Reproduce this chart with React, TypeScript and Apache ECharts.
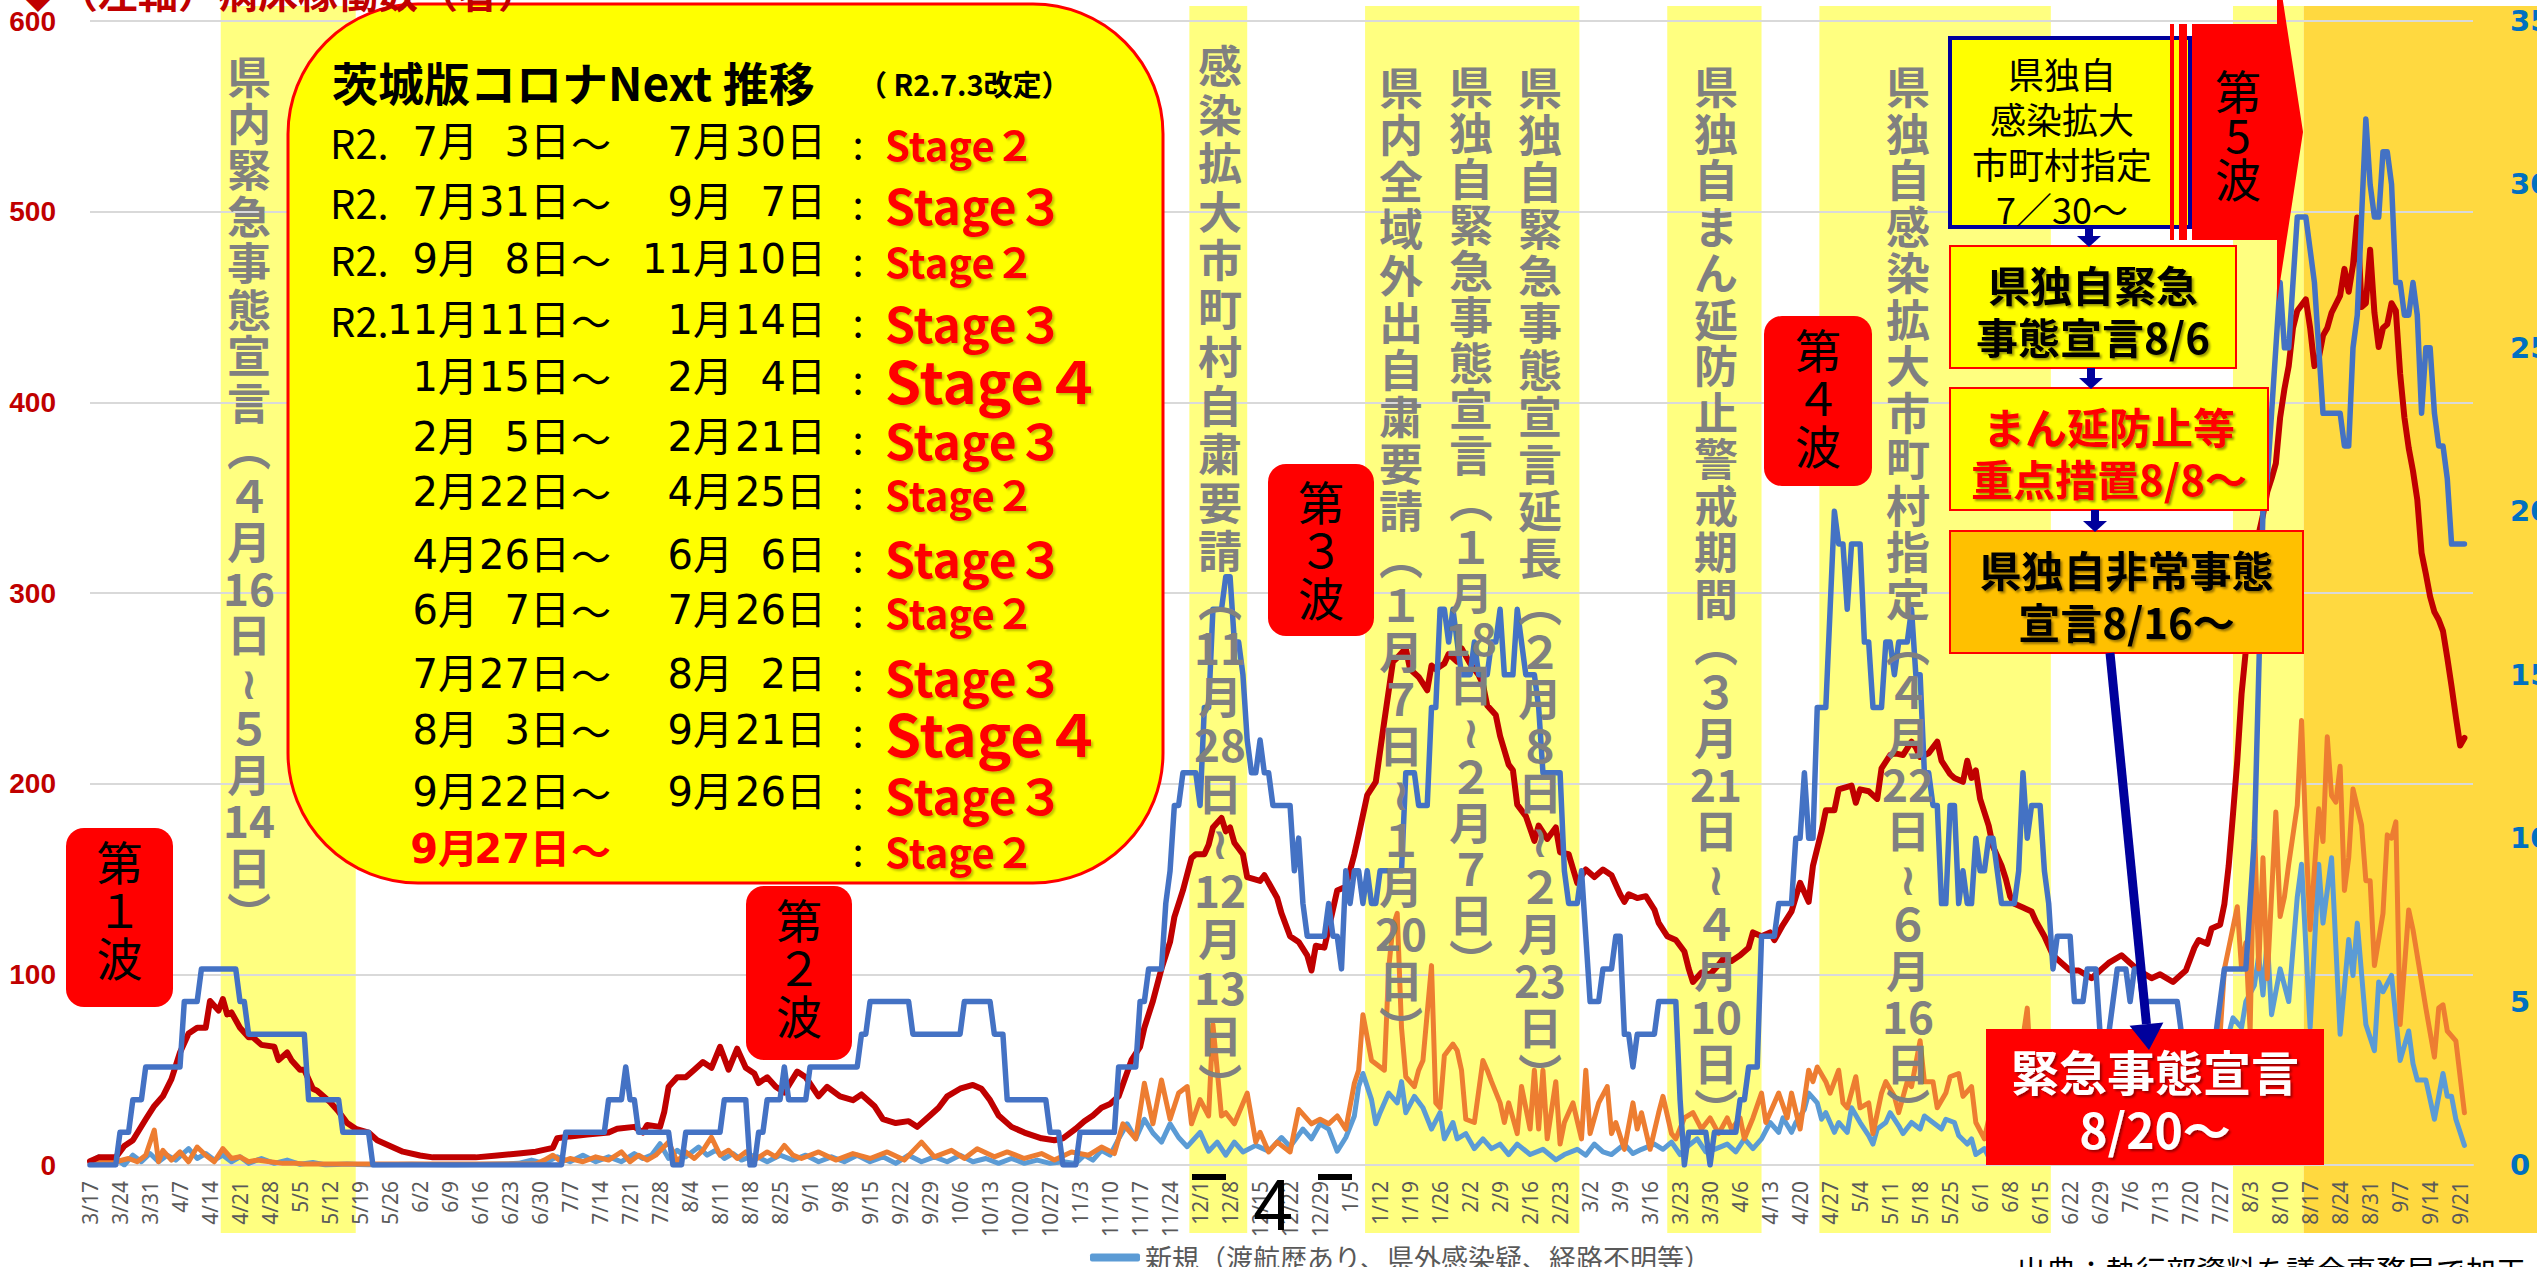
import React, { useEffect, useRef } from 'react';
import * as echarts from 'echarts';

const START = Date.UTC(2020, 2, 17);
const LAST_DAY = 554;
const AXIS_MAX_DAY = 556;
const dayLabel = (d: number) => {
  const t = new Date(START + d * 86400000);
  return `${t.getUTCMonth() + 1}/${t.getUTCDate()}`;
};

// 病床稼働数 (left axis) [day index from 3/17/2020, value]
const bedsData: number[][] = [
  [0,2],[2,4],[6,4],[8,10],[10,13],[13,24],[15,31],[17,36],[19,45],[21,59],[23,69],[25,72],[27,72],[28,86],[30,81],[31,87],[32,79],[33,80],[35,72],[37,67],[38,67],[40,63],[43,62],[44,55],[46,59],[47,55],[49,50],[50,50],[52,40],[53,39],[56,33],[58,28],[60,22],[62,19],[65,17],[67,13],[70,10],[73,7],[77,5],[80,4],[85,4],[90,4],[95,5],[100,6],[104,7],[108,9],[109,14],[112,15],[116,16],[121,17],[123,19],[127,20],[129,17],[130,21],[133,20],[134,28],[135,41],[137,46],[139,46],[141,50],[143,54],[145,51],[147,62],[149,50],[151,61],[153,51],[155,48],[156,43],[158,46],[160,41],[162,38],[165,49],[167,46],[170,36],[172,41],[175,36],[178,34],[180,37],[183,31],[185,24],[188,22],[191,23],[193,20],[196,26],[198,30],[200,36],[203,40],[206,42],[208,40],[210,34],[212,26],[215,20],[218,17],[222,14],[225,13],[227,14],[230,19],[232,23],[234,26],[236,30],[238,32],[240,36],[243,55],[245,62],[246,72],[248,86],[250,103],[252,117],[253,130],[255,144],[257,161],[258,163],[260,163],[261,168],[262,177],[264,182],[265,175],[266,177],[267,169],[269,163],[270,151],[273,149],[274,152],[277,140],[278,132],[280,120],[282,117],[284,110],[285,102],[286,115],[288,114],[290,134],[291,144],[293,146],[295,163],[296,173],[298,194],[300,201],[302,233],[304,264],[305,266],[307,271],[308,260],[310,256],[312,249],[313,262],[314,260],[316,263],[317,268],[319,264],[320,271],[322,263],[324,257],[325,252],[326,241],[328,236],[329,225],[331,210],[332,207],[333,189],[335,183],[337,170],[338,178],[340,171],[342,177],[343,164],[345,163],[347,148],[349,155],[351,151],[353,155],[355,152],[357,142],[358,138],[359,142],[361,140],[363,141],[365,134],[366,127],[368,120],[370,118],[372,112],[373,103],[374,96],[376,101],[378,100],[380,105],[381,108],[383,107],[385,110],[387,114],[388,122],[390,120],[392,122],[393,118],[395,126],[397,133],[399,148],[401,138],[402,157],[404,175],[405,186],[407,186],[408,197],[411,199],[412,190],[413,197],[415,196],[417,192],[418,208],[420,215],[421,216],[423,215],[425,222],[426,219],[427,214],[429,216],[431,222],[432,212],[434,205],[435,203],[437,201],[438,212],[439,203],[440,207],[441,192],[443,178],[444,167],[446,157],[447,150],[448,141],[449,137],[451,135],[453,133],[454,128],[456,120],[458,110],[460,106],[462,102],[464,102],[467,98],[469,102],[471,106],[474,110],[476,106],[478,102],[481,98],[483,100],[486,96],[488,100],[489,102],[491,114],[492,118],[494,116],[495,124],[497,126],[498,137],[499,157],[500,184],[501,212],[502,247],[503,270],[504,298],[505,321],[507,341],[508,353],[509,360],[510,368],[511,392],[512,407],[513,419],[514,439],[515,448],[517,454],[518,439],[519,419],[520,423],[521,435],[522,439],[523,447],[525,456],[526,470],[527,458],[528,472],[529,497],[530,450],[531,452],[532,480],[533,447],[534,429],[535,439],[536,441],[537,452],[538,448],[539,415],[540,392],[541,376],[542,364],[543,349],[544,321],[545,310],[546,298],[547,290],[548,286],[549,280],[550,266],[551,251],[552,235],[553,220],[554,224],
];

// 重症者数 (right axis): [first day of run, value held until next run]
const severeRuns: number[][] = [
  [0,0],[7,1],[10,2],[13,3],[22,5],[26,6],[35,5],[37,4],[51,2],[59,1],[66,0],[111,1],[121,2],[125,3],[126,2],[128,1],[136,0],[139,1],[148,2],[154,0],[156,1],[158,2],[162,3],[163,2],[168,3],[180,4],[182,5],[192,4],[204,5],[211,4],[214,2],[224,1],[227,0],[231,1],[240,3],[245,5],[247,6],[251,8],[252,9],[253,11],[255,12],[259,11],[260,14],[262,17],[265,18],[267,16],[269,15],[270,13],[271,12],[273,13],[274,12],[276,11],[281,9],[282,10],[283,8],[284,7],[289,8],[290,7],[292,6],[293,9],[294,8],[295,9],[297,8],[298,9],[299,8],[301,9],[307,12],[310,11],[313,14],[315,17],[317,16],[318,17],[319,16],[320,15],[323,16],[324,15],[327,16],[329,17],[330,15],[333,17],[334,16],[335,15],[338,14],[339,12],[344,9],[345,8],[348,9],[349,7],[350,5],[353,6],[356,7],[358,4],[360,3],[361,4],[366,5],[371,2],[372,0],[373,1],[378,0],[379,1],[385,2],[387,3],[390,7],[394,8],[398,10],[400,12],[401,10],[403,14],[406,17],[407,20],[408,19],[410,17],[411,19],[414,16],[416,14],[419,16],[421,15],[422,16],[425,17],[426,15],[428,12],[430,11],[432,8],[434,11],[436,8],[437,9],[438,8],[440,10],[441,9],[443,10],[445,9],[446,8],[450,9],[451,12],[452,10],[453,11],[456,9],[457,8],[458,6],[459,7],[463,5],[466,6],[469,4],[472,5],[473,6],[476,5],[477,6],[479,5],[488,4],[491,3],[494,4],[497,5],[498,6],[504,8],[505,10],[506,15],[507,20],[508,21],[509,23],[510,25],[511,27],[512,25],[514,27],[515,29],[518,28],[519,27],[520,25],[521,23],[526,22],[528,25],[529,26],[530,29],[531,32],[532,30],[533,29],[535,31],[537,30],[538,27],[540,26],[542,27],[543,26],[544,23],[545,25],[547,23],[548,22],[550,21],[551,19],
];

// 新規（渡航歴あり、県外感染疑、経路不明等） (right axis)
const unknownData: number[][] = [
  [0,0.1],[2,0.25],[4,0.05],[6,0.2],[8,0],[10,0.3],[12,0.1],[14,0.35],[16,0.1],[18,0.3],[20,0.15],[23,0.5],[25,0.2],[27,0.35],[29,0.15],[31,0.3],[33,0.1],[35,0.25],[37,0.05],[40,0.2],[43,0.05],[46,0.15],[49,0.02],[52,0.08],[55,0],[60,0.03],[65,0],[75,0.02],[85,0],[95,0.03],[100,0.05],[103,0.15],[106,0.05],[109,0.25],[112,0.1],[115,0.3],[118,0.1],[121,0.25],[124,0.1],[127,0.35],[129,0.2],[131,0.3],[133,0.65],[135,0.2],[137,0.45],[139,0.25],[142,0.55],[144,0.3],[146,0.45],[148,0.2],[150,0.35],[152,0.15],[155,0.3],[158,0.1],[161,0.3],[164,0.15],
  [167,0.3],[170,0.1],[173,0.25],[176,0.1],[179,0.3],[182,0.1],[185,0.25],[188,0.05],[191,0.3],[194,0.1],[197,0.25],[200,0.1],[203,0.3],[206,0.1],[209,0.2],[212,0.05],[215,0.2],[218,0.05],[221,0.15],[224,0.05],[227,0.1],[230,0.05],[232,0.3],[234,0.15],[236,0.45],[238,0.3],[240,0.8],
  [242,1.26],[244,0.8],[246,1.4],[248,0.98],[250,0.7],[252,1.26],[254,0.84],[256,0.56],[259,1.0],[261,0.42],[263,0.7],[265,0.3],[267,0.7],[269,0.4],[272,0.6],[275,0.42],[278,0.84],[280,0.56],[283,1.1],[285,0.8],[287,1.26],[289,1.1],[291,0.42],[293,0.84],[295,1.5],[296,2.4],[297,2.8],[299,2.0],[300,1.26],
  [301,1.6],[303,2.2],[305,1.9],[306,2.55],[307,1.6],[309,2.1],[311,1.75],[313,1.1],[315,1.6],[316,0.8],[318,1.3],[319,0.8],[321,0.96],[323,0.5],[325,0.8],[327,0.5],[329,0.64],[331,0.32],[333,0.64],[336,0.32],[339,0.48],[342,0.16],[344,0.32],[347,0.48],[349,0.3],[351,0.64],[353,0.4],[355,0.32],[358,0.64],[360,0.35],[362,0.48],[365,0.64],[367,0.48],[369,0.7],[371,0.32],[373,0.6],[375,0.8],[377,0.4],[379,0.48],[382,0.64],[384,0.4],[386,0.8],[388,0.5],[390,0.8],[392,1.3],[394,1.0],[395,1.44],[397,1.0],[398,1.3],[400,1.7],[401,2.2],[403,1.9],[404,1.4],[405,1.6],[407,1.0],[408,1.3],[410,1.0],[411,1.75],[413,1.3],[415,0.9],[416,0.64],[417,1.1],[419,1.3],[420,1.6],[422,1.2],[423,0.96],[425,1.3],[427,1.1],[428,1.5],[430,1.3],[432,1.1],[433,1.4],[435,1.3],[436,0.9],[438,0.64],[439,0.8],[440,0.32],[442,0.5],[443,0.24],
  [444,0.4],[446,1.0],[448,0.6],[450,1.4],[452,1.0],[454,1.6],[456,0.9],[458,1.5],[460,0.8],[462,1.2],[464,0.6],[466,1.0],[468,0.5],[470,0.9],[472,0.6],[474,1.1],[476,0.7],[478,1.0],[480,0.6],[482,1.2],[484,0.8],[486,1.3],[488,0.9],[490,1.5],[492,1.2],[494,2.0],[496,2.4],[498,3.5],[500,4.5],[502,4.2],[503,5],[505,5.5],[506,6.4],[507,5.2],[508,6.9],[509,4.6],[511,6],[513,5],[515,8.2],
  [516,9.2],[518,4.2],[520,9.2],[521,7.4],[523,9.4],[525,4.0],[527,6.9],[528,5.8],[529,7.4],[531,4.3],[533,3.5],[534,5.6],[535,5.3],[537,5.8],[539,3.2],[541,4.1],[542,3.1],[543,2.6],[545,2.6],[547,1.4],[549,2.8],[550,2.1],[551,2.1],[552,1.4],[554,0.6],
];

// second new-case series (orange, right axis)
const contactData: number[][] = [
  [0,0.05],[3,0.15],[6,0.1],[9,0.2],[11,0.1],[13,0.3],[15,1.07],[16,0.1],[17,0.45],[19,0.15],[21,0.4],[23,0.1],[25,0.55],[27,0.3],[29,0.1],[31,0.5],[33,0.2],[35,0.25],[37,0.1],[39,0.15],[42,0.1],[45,0.05],[48,0.05],[50,0.03],[60,0.03],[70,0.03],[80,0.03],[90,0.03],[100,0.03],[104,0.03],[106,0.15],[108,0.3],[110,0.1],[112,0.2],[115,0.1],[118,0.25],[121,0.15],[124,0.4],[126,0.1],[128,0.3],[130,0.15],[132,0.3],[135,0.7],[137,0.1],[139,0.4],[141,0.2],[143,0.45],[145,0.85],[147,0.3],[149,0.45],[151,0.2],[153,0.4],[155,0.15],[158,0.4],[160,0.25],[162,0.6],[164,0.3],
  [166,0.2],[170,0.4],[174,0.15],[178,0.35],[182,0.2],[186,0.4],[190,0.15],[194,0.7],[197,0.25],[201,0.45],[204,0.2],[207,0.5],[211,0.25],[214,0.4],[218,0.2],[222,0.35],[225,0.15],[229,0.4],[233,0.3],[236,0.55],[239,0.35],[241,1.26],[244,0.8],[246,2.5],[248,1.26],[250,2.6],[252,1.4],[254,2.2],[256,2.4],[257,1.26],[259,2.0],[261,1.5],[262,4.3],[264,1.5],[265,1.6],[267,1.26],[270,2.2],[272,0.7],[273,1.0],[275,0.4],[277,0.7],[280,0.4],[282,1.7],[285,1.26],[287,1.4],[289,1.26],[291,1.5],[293,1.1],[295,2.5],[296,2.9],[297,4.6],[299,3.2],[301,3.0],[302,2.9],[303,6.0],[304,7.3],[305,7.7],[306,4.2],[307,2.7],[309,2.4],[310,2.9],[311,3.2],[313,6.1],[314,1.9],[315,1.75],[316,3.35],[318,3.7],[319,3.5],[320,2.9],[321,1.4],[323,1.3],[325,3.2],[326,2.9],[327,2.55],[329,1.9],[330,1.3],[331,1.9],[333,0.96],[334,2.4],[336,1.1],[337,2.9],[338,1.1],[339,2.9],[340,0.8],[342,2.55],[343,0.64],[344,1.3],[346,1.9],[348,0.8],[349,2.9],[350,0.96],[352,1.9],[354,2.4],[355,0.96],[356,1.3],[358,0.48],[360,1.9],[361,1.1],[362,1.6],[364,0.48],[366,1.6],[367,2.1],[369,0.96],[370,0.8],[372,1.44],[374,1.6],[376,1.1],[378,1.44],[380,0.96],[382,1.44],[383,1.1],[385,1.44],[386,0.8],[388,1.44],[390,2.2],[391,1.3],[392,1.6],[394,2.2],[396,1.44],[397,2.2],[399,1.1],[401,2.9],[402,2.55],[403,3.0],[405,2.55],[406,2.2],[408,2.9],[409,1.9],[410,1.75],[412,2.7],[413,1.75],[415,1.9],[416,0.96],[418,2.2],[419,2.55],[421,2.1],[422,1.6],[424,2.55],[425,2.4],[427,3.8],[428,2.55],[430,2.55],[431,1.75],[433,2.2],[434,2.7],[436,2.8],[437,2.1],[439,2.4],[440,1.3],[442,0.8],
  [444,2.0],[446,2.8],[448,2.2],[450,3.0],[452,4.8],[453,2.5],[455,3.2],[457,2.0],[459,2.8],[461,1.8],[463,2.6],[465,1.5],[467,2.4],[469,1.8],[471,2.6],[473,1.6],[475,2.2],[477,1.5],[479,2.3],[481,1.6],[483,2.5],[485,1.8],[487,2.6],[489,2.0],[491,3.0],[493,2.4],[495,3.5],[497,4.0],
  [498,6.0],[501,7.9],[502,6.0],[503,6.8],[504,4.1],[505,10.5],[506,6.0],[507,9.4],[508,5.7],[510,10.8],[511,7.6],[512,8.2],[513,9.2],[515,11],[516,13.6],[517,10.1],[518,7.2],[520,10.9],[521,9.9],[522,13.1],[523,11.3],[524,11.1],[525,12.2],[526,8.4],[527,9.4],[528,11.5],[530,10.4],[531,8.7],[532,8.7],[533,6.1],[535,7.7],[536,10.1],[537,10.0],[538,10.5],[539,4.3],[541,7.8],[542,7.2],[544,5.6],[545,4.8],[547,3.3],[548,4.8],[549,4.9],[550,4.1],[552,3.8],[554,1.6],
];

// measure periods (day index ranges)
const periodRanges: number[][] = [[30.5, 62], [256.5, 270], [297.5, 347.5], [368, 390], [403.5, 457.5], [500, 516.5]];
const emergencyStart = 516.5;

// Ibaraki "Next" stage table
const nextPrefix = ['R2.', 'R2.', 'R2.', 'R2.', '', '', '', '', '', '', '', '', ''];
const nextFromMonth = ['7月', '7月', '9月', '11月', '1月', '2月', '2月', '4月', '6月', '7月', '8月', '9月', '9月'];
const nextFromDay = ['3日', '31日', '8日', '11日', '15日', '5日', '22日', '26日', '7日', '27日', '3日', '22日', '27日'];
const nextToMonth = ['7月', '9月', '11月', '1月', '2月', '2月', '4月', '6月', '7月', '8月', '9月', '9月', ''];
const nextToDay = ['30日', '7日', '10日', '14日', '4日', '21日', '25日', '6日', '26日', '2日', '21日', '26日', ''];
const nextStage = [2, 3, 2, 3, 4, 3, 2, 3, 2, 3, 4, 3, 2];

const periodTexts: string[][] = [
  ['県','内','緊','急','事','態','宣','言','︵','４','月','16','日','≀','５','月','14','日','︶'],
  ['感','染','拡','大','市','町','村','自','粛','要','請','︵','11','月','28','日','≀','12','月','13','日','︶'],
  ['県','内','全','域','外','出','自','粛','要','請','︵','１','月','７','日','≀','１','月','20','日','︶'],
  ['県','独','自','緊','急','事','態','宣','言','︵','１','月','18','日','≀','２','月','７','日','︶'],
  ['県','独','自','緊','急','事','態','宣','言','延','長','︵','２','月','８','日','≀','２','月','23','日','︶'],
  ['県','独','自','ま','ん','延','防','止','警','戒','期','間','︵','３','月','21','日','≀','４','月','10','日','︶'],
  ['県','独','自','感','染','拡','大','市','町','村','指','定','︵','４','月','22','日','≀','６','月','16','日','︶'],
];
const waveLabels = ['第\n１\n波', '第\n２\n波', '第\n３\n波', '第\n４\n波', '第\n5\n波'];

const CJK = '"Noto Sans CJK JP", "DejaVu Sans", sans-serif';
const DATEFONT = '"DejaVu Sans", "Noto Sans CJK JP", sans-serif';
const W = 2537;
const H = 1267;

export default function App() {
  const ref = useRef<HTMLDivElement>(null);
  useEffect(() => {
    document.body.style.margin = '0';
    document.body.style.overflow = 'hidden';
    if (!ref.current) return;
    const chart = echarts.init(ref.current, null, { renderer: 'svg', width: W, height: H });

    const severeDaily: number[][] = [];
    severeRuns.forEach(([s, v], i) => {
      const e = i + 1 < severeRuns.length ? severeRuns[i + 1][0] : LAST_DAY + 1;
      for (let d = s; d < e; d++) severeDaily.push([d, v]);
    });

    const line = (name: string, data: number[][], color: string, width: number, yAxisIndex: number) => ({
      name, type: 'line', data, yAxisIndex, showSymbol: false, symbol: 'none',
      lineStyle: { color, width, join: 'round', cap: 'round' }, itemStyle: { color },
    });

    chart.setOption({
      animation: false,
      grid: { left: 90, right: 64, top: 21, bottom: 102, containLabel: false, outerBoundsMode: 'none' },
      xAxis: {
        type: 'value', min: 0, max: AXIS_MAX_DAY, interval: 7,
        axisLine: { show: true, lineStyle: { color: '#D9D9D9', width: 2 } },
        axisTick: { show: false }, splitLine: { show: false },
        axisLabel: { rotate: 90, fontSize: 21, color: '#595959', fontFamily: 'Noto Sans', margin: 16, showMaxLabel: false, formatter: (v: number) => dayLabel(v) },
      },
      yAxis: [
        {
          type: 'value', min: 0, max: 600, interval: 100, position: 'left',
          axisLine: { show: false }, axisTick: { show: false },
          splitLine: { show: true, lineStyle: { color: '#D9D9D9', width: 2 } },
          axisLabel: { color: '#C00000', fontWeight: 'bold', fontSize: 28, fontFamily: 'Liberation Sans', margin: 34 },
        },
        {
          type: 'value', min: 0, max: 35, interval: 5, position: 'right',
          axisLine: { show: false }, axisTick: { show: false }, splitLine: { show: false },
          axisLabel: { color: '#0070C0', fontWeight: 'bold', fontSize: 29, fontFamily: 'DejaVu Sans', margin: 37 },
        },
      ],
      legend: {
        data: ['新規（渡航歴あり、県外感染疑、経路不明等）'], left: 1090, top: 1244, padding: 0,
        itemWidth: 50, itemHeight: 8, icon: 'roundRect',
        textStyle: { fontSize: 27, color: '#595959', fontFamily: CJK },
      },
      series: [
        line('新規（渡航歴あり、県外感染疑、経路不明等）', unknownData, '#5B9BD5', 5, 1),
        line('新規（その他）', contactData, '#ED7D31', 5, 1),
        line('病床稼働数', bedsData, '#C00000', 6, 0),
        line('重症者数', severeDaily, '#4472C4', 5.5, 1),
      ],
    });

    const px = (d: number) => chart.convertToPixel({ xAxisIndex: 0 }, d) as number;
    const els: any[] = [];
    periodRanges.forEach(([a, b]) => {
      els.push({ type: 'rect', z: -5, shape: { x: px(a), y: 6, width: px(b) - px(a), height: 1227 }, style: { fill: '#FFFF80' } });
    });
    els.push({ type: 'rect', z: -4, shape: { x: px(emergencyStart), y: 6, width: W - px(emergencyStart), height: 1227 }, style: { fill: '#FFD940' } });

    // vertical period texts
    const colX = [249, 1220, 1401, 1471, 1540, 1716, 1908];
    const colY = [52, 40, 62, 62, 62, 62, 62];
    const colLH = [46.5, 48.5, 47, 46, 47, 46.5, 46.5];
    periodTexts.forEach((cells, i) => {
      els.push({ type: 'text', z: 50, x: colX[i], y: colY[i], style: { text: cells.join('\n'), fill: '#808080', fontSize: 44, fontWeight: 'bold', fontFamily: CJK, lineHeight: colLH[i], align: 'center', verticalAlign: 'top' } });
    });

    // wave boxes
    const waveBox = [[66, 828, 107, 179, 908], [746, 886, 106, 174, 966], [1268, 464, 106, 172, 548], [1764, 316, 108, 170, 396]];
    waveBox.forEach(([x, y, w, h, cy], i) => {
      els.push({ type: 'rect', z: 55, shape: { x, y, width: w, height: h, r: 18 }, style: { fill: '#FF0000' } });
      els.push({ type: 'text', z: 56, x: x + w / 2, y: cy, style: { text: waveLabels[i], fill: '#000', fontSize: 46, fontFamily: CJK, lineHeight: 48, align: 'center', verticalAlign: 'middle' } });
    });

    // left axis title
    els.push({ type: 'text', z: 80, x: 18, y: -29, style: { text: '◆（左軸）病床稼働数（者）', fill: '#C00000', fontSize: 40, fontWeight: 'bold', fontFamily: CJK } });

    // Next stage box
    els.push({ type: 'rect', z: 60, shape: { x: 288, y: 4, width: 875, height: 879, r: 130 }, style: { fill: '#FFFF00', stroke: '#FF0000', lineWidth: 3 } });
    els.push({ type: 'text', z: 61, x: 332, y: 81, style: { text: '茨城版コロナNext 推移', fill: '#000', fontSize: 46, fontWeight: 'bold', fontFamily: CJK, verticalAlign: 'middle' } });
    els.push({ type: 'text', z: 61, x: 858, y: 83, style: { text: '（ R2.7.3改定）', fill: '#000', fontSize: 29, fontWeight: 'bold', fontFamily: CJK, verticalAlign: 'middle' } });
    const rowY = [142, 202, 259, 320, 377, 437, 492, 555, 610, 674, 730, 792, 849];
    const stageSize: Record<number, number> = { 2: 40, 3: 48, 4: 58 };
    const fw = ['', '', '２', '３', '４'];
    rowY.forEach((y, i) => {
      const last = i === rowY.length - 1;
      const base = { fontSize: 40, fontFamily: DATEFONT, verticalAlign: 'middle', fill: last ? '#FF0000' : '#000', fontWeight: last ? 'bold' : 'normal' };
      if (nextPrefix[i]) els.push({ type: 'text', z: 61, x: 330, y, style: { ...base, fontFamily: CJK, text: nextPrefix[i], align: 'left' } });
      els.push({ type: 'text', z: 61, x: 478, y, style: { ...base, text: nextFromMonth[i], align: 'right' } });
      els.push({ type: 'text', z: 61, x: 570, y, style: { ...base, text: nextFromDay[i], align: 'right' } });
      els.push({ type: 'text', z: 61, x: 591, y, style: { ...base, fontFamily: CJK, text: '～', align: 'center' } });
      if (nextToMonth[i]) els.push({ type: 'text', z: 61, x: 733, y, style: { ...base, text: nextToMonth[i], align: 'right' } });
      if (nextToDay[i]) els.push({ type: 'text', z: 61, x: 826, y, style: { ...base, text: nextToDay[i], align: 'right' } });
      els.push({ type: 'text', z: 61, x: 858, y, style: { fontSize: 40, fontFamily: CJK, verticalAlign: 'middle', fill: '#000', text: ':', align: 'center' } });
      els.push({ type: 'text', z: 61, x: 885, y: y + 2, style: { text: 'Stage' + fw[nextStage[i]], fill: '#FF0000', fontWeight: 'bold', fontSize: stageSize[nextStage[i]], fontFamily: CJK, verticalAlign: 'middle', textShadowColor: 'rgba(0,0,0,0.25)', textShadowOffsetX: 2, textShadowOffsetY: 2, textShadowBlur: 2 } });
    });

    // right-side measure boxes
    const NAVY = '#00009C';
    els.push({ type: 'rect', z: 60, shape: { x: 1950, y: 38, width: 240, height: 189 }, style: { fill: '#FFFF00', stroke: NAVY, lineWidth: 4 } });
    els.push({ type: 'text', z: 61, x: 2062, y: 140, style: { text: '県独自\n感染拡大\n市町村指定\n7／30～', fill: '#000', fontSize: 36, lineHeight: 45, fontFamily: CJK, align: 'center', verticalAlign: 'middle' } });
    els.push({ type: 'rect', z: 62, shape: { x: 2170, y: 24, width: 4, height: 216 }, style: { fill: '#FF0000' } });
    els.push({ type: 'rect', z: 62, shape: { x: 2179, y: 24, width: 8, height: 216 }, style: { fill: '#FF0000' } });
    els.push({ type: 'polygon', z: 62, shape: { points: [[2192, 24], [2277, 24], [2277, -38], [2303, 132], [2277, 302], [2277, 240], [2192, 240]] }, style: { fill: '#FF0000' } });
    els.push({ type: 'text', z: 63, x: 2238, y: 133, style: { text: waveLabels[4], fill: '#000', fontSize: 46, lineHeight: 44, fontFamily: CJK, align: 'center', verticalAlign: 'middle' } });

    const shadow = { textShadowColor: 'rgba(0,0,0,0.4)', textShadowOffsetX: 2, textShadowOffsetY: 2, textShadowBlur: 2 };
    const boxes = [
      { x: 1950, y: 246, w: 286, h: 122, fill: '#FFFF00', stroke: '#FF0000', text: '県独自緊急\n事態宣言8/6', color: '#000', size: 42 },
      { x: 1950, y: 388, w: 318, h: 122, fill: '#FFFF00', stroke: '#FF0000', text: 'まん延防止等\n重点措置8/8～', color: '#FF0000', size: 42 },
      { x: 1950, y: 531, w: 353, h: 122, fill: '#FFC000', stroke: '#FF0000', text: '県独自非常事態\n宣言8/16～', color: '#000', size: 42 },
      { x: 1987, y: 1030, w: 336, h: 134, fill: '#FF0000', stroke: '#FF0000', text: '緊急事態宣言\n8/20～', color: '#FFF', size: 48 },
    ];
    boxes.forEach((b) => {
      els.push({ type: 'rect', z: 60, shape: { x: b.x, y: b.y, width: b.w, height: b.h }, style: { fill: b.fill, stroke: b.stroke, lineWidth: 2 } });
      els.push({ type: 'text', z: 61, x: b.x + b.w / 2, y: b.y + b.h / 2 + 2, style: { text: b.text, fill: b.color, fontSize: b.size, fontWeight: 'bold', lineHeight: b.size + 10, fontFamily: CJK, align: 'center', verticalAlign: 'middle', ...shadow } });
    });

    const downArrow = (x: number, y1: number, y2: number) => {
      els.push({ type: 'rect', z: 64, shape: { x: x - 4, y: y1, width: 8, height: y2 - y1 - 9 }, style: { fill: NAVY } });
      els.push({ type: 'polygon', z: 64, shape: { points: [[x - 12, y2 - 10], [x + 12, y2 - 10], [x, y2 + 1]] }, style: { fill: NAVY } });
    };
    downArrow(2089, 227, 246);
    downArrow(2091, 368, 388);
    downArrow(2095, 510, 531);
    // long arrow
    const sx = 2110, sy = 653, tx = 2149, ty = 1050;
    const len = Math.hypot(tx - sx, ty - sy);
    const ux = (tx - sx) / len, uy = (ty - sy) / len;
    const bx = tx - ux * 26, by = ty - uy * 26;
    els.push({ type: 'line', z: 64, shape: { x1: sx, y1: sy, x2: bx, y2: by }, style: { stroke: NAVY, lineWidth: 9 } });
    els.push({ type: 'polygon', z: 64, shape: { points: [[bx + uy * 17, by - ux * 17], [bx - uy * 17, by + ux * 17], [tx, ty]] }, style: { fill: NAVY } });

    // page number and source
    els.push({ type: 'rect', z: 70, shape: { x: 1192, y: 1174, width: 34, height: 6 }, style: { fill: '#000' } });
    els.push({ type: 'rect', z: 70, shape: { x: 1318, y: 1174, width: 34, height: 6 }, style: { fill: '#000' } });
    els.push({ type: 'text', z: 70, x: 1273, y: 1205, style: { text: '4', fill: '#000', fontSize: 72, fontFamily: 'Liberation Sans', align: 'center', verticalAlign: 'middle' } });
    els.push({ type: 'text', z: 70, x: 2016, y: 1254, style: { text: '出典：執行部資料を議会事務局で加工', fill: '#000', fontSize: 30, fontFamily: CJK, verticalAlign: 'top' } });

    chart.setOption({ graphic: { elements: els } });

    return () => chart.dispose();
  }, []);
  return <div ref={ref} style={{ width: W + 'px', height: H + 'px' }} />;
}
